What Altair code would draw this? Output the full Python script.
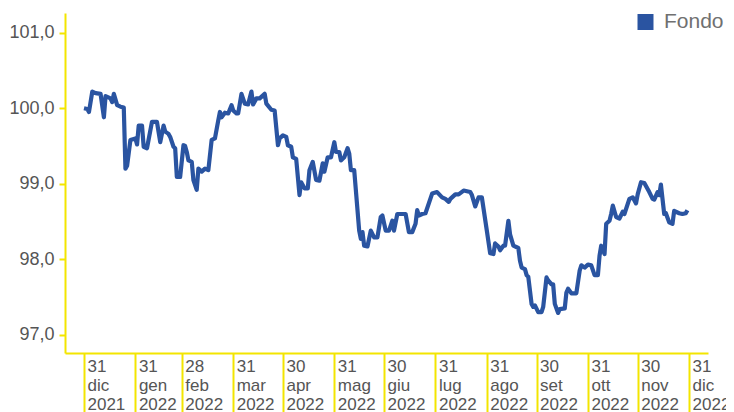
import altair as alt
import pandas as pd

# Days elapsed since 31 Dec 2021 and fund value
day_offsets = [0, 2, 3, 5, 7, 10, 12, 13, 16, 17, 18, 20, 22, 24, 25, 26, 28, 31, 32, 33, 35, 36, 38, 41, 44, 46, 48, 49, 51, 52, 54, 55, 56, 58, 60, 61, 62, 63, 65, 66, 68, 69, 71, 73, 75, 77, 79, 81, 82, 83, 85, 87, 89, 90, 92, 93, 95, 97, 99, 101, 102, 104, 106, 109, 110, 113, 115, 117, 118, 120, 122, 123, 125, 126, 128, 130, 131, 133, 135, 136, 138, 140, 142, 144, 145, 147, 149, 151, 152, 154, 155, 157, 159, 160, 161, 163, 166, 167, 168, 169, 171, 173, 175, 177, 179, 180, 182, 184, 186, 187, 189, 192, 194, 196, 198, 200, 201, 202, 204, 206, 210, 213, 216, 218, 220, 221, 224, 226, 229, 233, 234, 236, 238, 240, 243, 245, 247, 248, 250, 251, 253, 254, 256, 257, 259, 262, 263, 264, 266, 267, 268, 270, 271, 272, 274, 276, 277, 279, 280, 282, 283, 284, 286, 287, 290, 291, 292, 294, 297, 299, 300, 302, 304, 306, 308, 310, 311, 312, 314, 315, 316, 317, 318, 319, 321, 323, 325, 326, 329, 331, 333, 334, 336, 338, 341, 343, 344, 346, 347, 348, 350, 351, 353, 355, 356, 359, 361, 363, 364]
fondo_values = [100.00, 99.99, 99.95, 100.22, 100.20, 100.19, 99.88, 100.16, 100.13, 100.08, 100.19, 100.04, 100.02, 100.01, 99.20, 99.24, 99.58, 99.60, 99.52, 99.77, 99.77, 99.49, 99.47, 99.82, 99.82, 99.55, 99.77, 99.69, 99.66, 99.62, 99.49, 99.47, 99.09, 99.09, 99.51, 99.50, 99.42, 99.31, 99.29, 99.05, 98.92, 99.20, 99.16, 99.20, 99.18, 99.58, 99.60, 99.84, 99.95, 99.88, 99.94, 99.93, 100.04, 99.97, 99.93, 99.93, 100.19, 100.06, 100.05, 100.22, 100.05, 100.13, 100.13, 100.19, 100.06, 99.98, 99.97, 99.51, 99.60, 99.64, 99.62, 99.51, 99.49, 99.35, 99.33, 98.85, 99.02, 98.94, 98.94, 99.18, 99.29, 99.05, 99.04, 99.27, 99.16, 99.35, 99.35, 99.55, 99.42, 99.42, 99.31, 99.35, 99.47, 99.40, 99.18, 99.18, 98.38, 98.27, 98.36, 98.18, 98.17, 98.38, 98.29, 98.29, 98.56, 98.58, 98.38, 98.38, 98.51, 98.38, 98.60, 98.60, 98.60, 98.36, 98.36, 98.47, 98.65, 98.58, 98.60, 98.61, 98.87, 98.89, 98.82, 98.80, 98.76, 98.80, 98.86, 98.86, 98.91, 98.89, 98.85, 98.70, 98.82, 98.82, 98.38, 98.08, 98.07, 98.21, 98.17, 98.12, 98.18, 98.18, 98.51, 98.33, 98.18, 98.15, 97.98, 97.89, 97.87, 97.79, 97.77, 97.41, 97.37, 97.39, 97.30, 97.30, 97.37, 97.76, 97.72, 97.67, 97.67, 97.41, 97.29, 97.34, 97.35, 97.56, 97.61, 97.55, 97.55, 97.85, 97.92, 97.89, 97.93, 97.92, 97.79, 97.79, 98.05, 98.18, 98.07, 98.47, 98.49, 98.51, 98.60, 98.71, 98.56, 98.54, 98.63, 98.60, 98.80, 98.82, 98.74, 98.86, 99.02, 99.01, 98.89, 98.80, 98.79, 98.89, 98.85, 98.99, 98.60, 98.61, 98.49, 98.47, 98.64, 98.61, 98.60, 98.61, 98.65]

series_name = "Fondo"
start_date = "2021-12-31"

# X-axis ticks: month ends
tick_dates = ["2021-12-31", "2022-01-31", "2022-02-28", "2022-03-31", "2022-04-30",
              "2022-05-31", "2022-06-30", "2022-07-31", "2022-08-31", "2022-09-30",
              "2022-10-31", "2022-11-30", "2022-12-31"]
month_abbr = ["gen", "feb", "mar", "apr", "mag", "giu", "lug", "ago", "set", "ott", "nov", "dic"]
y_ticks = [97, 98, 99, 100, 101]

base = pd.Timestamp(start_date)
dates = [(base + pd.Timedelta(days=d)).strftime("%Y-%m-%d") for d in day_offsets]
df = pd.DataFrame({"date": dates, "value": fondo_values, "serie": series_name})

tick_ms = [int(pd.Timestamp(d, tz="UTC").value // 10**6) for d in tick_dates]
months_js = "[" + ",".join("'%s'" % m for m in month_abbr) + "]"
x_label_expr = ("[utcFormat(datum.value, '%d'), " + months_js +
                "[utcmonth(datum.value)], utcFormat(datum.value, '%Y')]")

YELLOW = "#f3e500"
BLUE = "#2a54a1"
GREY = "#555555"
FONT = "Liberation Sans"

x_axis = alt.Axis(
    values=tick_ms, labelExpr=x_label_expr, title=None,
    domainColor=YELLOW, domainWidth=2, tickColor=YELLOW, tickWidth=2, tickSize=62,
    labelAlign="left", labelBaseline="top", labelPadding=-57, labelOffset=3,
    labelFont=FONT, labelFontSize=17, labelColor=GREY, labelLineHeight=19,
    labelOverlap=False, labelFlush=False, labelBound=False, grid=False,
)
y_axis = alt.Axis(
    values=y_ticks, labelExpr="replace(format(datum.value, '.1f'), '.', ',')", title=None,
    domainColor=YELLOW, domainWidth=2, tickColor=YELLOW, tickWidth=2, tickSize=6,
    labelPadding=5, labelFont=FONT, labelFontSize=18, labelColor=GREY, grid=False,
)

chart = alt.Chart(df).mark_line(strokeWidth=4.2, strokeJoin="round").encode(
    x=alt.X("date:T", axis=x_axis,
            scale=alt.Scale(type="utc", domain=[
                alt.DateTime(year=2021, month=12, date=19, hours=13, utc=True),
                alt.DateTime(year=2023, month=1, date=11, hours=10, utc=True)])),
    y=alt.Y("value:Q", axis=y_axis, scale=alt.Scale(domain=[96.76, 101.26], nice=False, zero=False)),
    color=alt.Color("serie:N", scale=alt.Scale(range=[BLUE]),
                    legend=alt.Legend(title=None, orient="none", legendX=570, legendY=-1.5,
                                      symbolType="square", symbolSize=256, symbolFillColor=BLUE,
                                      symbolStrokeWidth=0, labelFont=FONT, labelFontSize=21,
                                      labelColor="#707070", labelOffset=8, padding=0)),
).properties(
    width=643, height=340,
    padding={"left": 57, "top": 5, "right": 18, "bottom": 59},
    autosize=alt.AutoSizeParams(type="none"),
).configure_view(stroke=None)

chart.save("out.html", embed_options={"renderer": "svg", "actions": False})
